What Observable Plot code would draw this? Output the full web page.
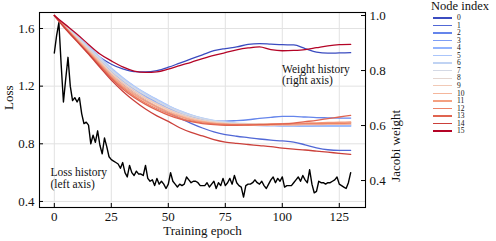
<!DOCTYPE html>
<html><head><meta charset="utf-8">
<script src="https://cdn.jsdelivr.net/npm/d3@7"></script>
<script src="https://cdn.jsdelivr.net/npm/@observablehq/plot@0.6"></script>
<style>
body{margin:0;background:#fff;}
#wrap{position:relative;width:496px;height:241px;font-family:"Liberation Serif",serif;overflow:hidden;}
#wrap svg{position:absolute;left:0;top:0;}
.lg{position:absolute;white-space:nowrap;color:#111;}
</style></head><body><div id="wrap"></div>
<script>
// ---------- data ----------
const lossHistory = [
1.43,1.55,1.64,1.35,1.09,1.25,1.40,1.20,1.10,1.12,
1.09,1.12,1.01,0.94,0.95,0.93,0.80,0.86,0.81,0.89,
0.79,0.73,0.84,0.78,0.71,0.69,0.68,0.67,0.66,0.63,
0.67,0.60,0.57,0.65,0.60,0.58,0.61,0.59,0.59,0.58,
0.65,0.56,0.54,0.55,0.51,0.56,0.52,0.54,0.52,0.49,
0.52,0.60,0.54,0.52,0.50,0.52,0.51,0.52,0.57,0.55,
0.53,0.54,0.54,0.53,0.51,0.51,0.51,0.53,0.50,0.52,
0.54,0.49,0.53,0.51,0.56,0.51,0.53,0.56,0.52,0.58,
0.53,0.51,0.50,0.43,0.51,0.52,0.52,0.53,0.55,0.53,
0.52,0.54,0.51,0.49,0.52,0.55,0.57,0.53,0.56,0.54,
0.57,0.50,0.51,0.51,0.51,0.53,0.55,0.57,0.54,0.58,
0.55,0.53,0.62,0.52,0.46,0.47,0.54,0.53,0.53,0.52,
0.53,0.53,0.54,0.55,0.57,0.52,0.51,0.50,0.49,0.53,
0.60];
const lossEpochs = d3.range(0, lossHistory.length);

const weightEpochs = [0,5,10,15,20,25,30,35,40,45,50,55,60,65,70,75,80,85,90,95,100,105,110,115,120,125,130];
const nodeIndex = [0,1,2,3,4,5,6,7,8,9,10,11,12,13,14,15];
const nodeWeights = [
 [1.0,0.962,0.922,0.882,0.848,0.823,0.806,0.796,0.795,0.800,0.812,0.827,0.842,0.857,0.872,0.880,0.886,0.895,0.898,0.896,0.894,0.893,0.880,0.867,0.863,0.864,0.865],
 [1.0,0.956,0.914,0.872,0.829,0.786,0.750,0.718,0.692,0.668,0.647,0.627,0.608,0.591,0.577,0.567,0.561,0.556,0.551,0.547,0.544,0.540,0.530,0.519,0.512,0.510,0.510],
 [1.0,0.958,0.918,0.878,0.836,0.793,0.758,0.728,0.703,0.681,0.661,0.644,0.631,0.622,0.617,0.616,0.618,0.621,0.626,0.630,0.633,0.633,0.631,0.629,0.628,0.627,0.627],
 [1.0,0.959,0.920,0.881,0.840,0.798,0.764,0.734,0.708,0.686,0.665,0.647,0.633,0.622,0.614,0.609,0.606,0.604,0.602,0.601,0.600,0.600,0.600,0.600,0.600,0.600,0.600],
 [1.0,0.961,0.924,0.886,0.847,0.806,0.772,0.742,0.716,0.693,0.671,0.652,0.637,0.625,0.616,0.609,0.605,0.602,0.600,0.599,0.598,0.598,0.597,0.597,0.597,0.597,0.597],
 [1.0,0.962,0.925,0.888,0.849,0.809,0.775,0.744,0.718,0.695,0.673,0.654,0.639,0.627,0.618,0.611,0.607,0.604,0.602,0.601,0.600,0.600,0.600,0.599,0.599,0.599,0.599],
 [1.0,0.961,0.923,0.885,0.846,0.805,0.771,0.741,0.715,0.692,0.671,0.653,0.638,0.627,0.619,0.613,0.609,0.607,0.605,0.604,0.604,0.604,0.604,0.604,0.604,0.604,0.604],
 [1.0,0.960,0.921,0.882,0.842,0.800,0.766,0.736,0.710,0.688,0.667,0.649,0.635,0.624,0.616,0.611,0.608,0.606,0.605,0.604,0.604,0.605,0.605,0.606,0.606,0.607,0.607],
 [1.0,0.958,0.918,0.877,0.836,0.793,0.758,0.728,0.702,0.680,0.660,0.643,0.630,0.620,0.613,0.609,0.607,0.606,0.606,0.606,0.606,0.607,0.607,0.608,0.608,0.609,0.610],
 [1.0,0.957,0.915,0.874,0.832,0.789,0.754,0.724,0.699,0.677,0.657,0.640,0.627,0.617,0.611,0.607,0.605,0.604,0.604,0.604,0.605,0.606,0.607,0.608,0.609,0.610,0.611],
 [1.0,0.956,0.913,0.871,0.828,0.784,0.748,0.718,0.693,0.671,0.652,0.636,0.623,0.614,0.608,0.604,0.602,0.601,0.601,0.601,0.602,0.602,0.603,0.603,0.604,0.604,0.605],
 [1.0,0.955,0.911,0.868,0.824,0.779,0.743,0.713,0.688,0.667,0.648,0.633,0.621,0.613,0.608,0.605,0.604,0.604,0.605,0.606,0.607,0.608,0.609,0.610,0.611,0.612,0.613],
 [1.0,0.954,0.909,0.865,0.820,0.775,0.738,0.707,0.682,0.661,0.643,0.628,0.617,0.610,0.606,0.604,0.603,0.603,0.603,0.604,0.605,0.606,0.607,0.607,0.608,0.608,0.609],
 [1.0,0.953,0.907,0.862,0.817,0.771,0.733,0.702,0.677,0.656,0.638,0.624,0.614,0.607,0.603,0.601,0.601,0.602,0.603,0.604,0.606,0.609,0.614,0.619,0.625,0.631,0.637],
 [1.0,0.950,0.905,0.860,0.812,0.765,0.725,0.690,0.660,0.635,0.615,0.592,0.575,0.562,0.549,0.540,0.535,0.531,0.527,0.523,0.518,0.514,0.511,0.507,0.503,0.499,0.495],
 [1.0,0.966,0.932,0.895,0.860,0.835,0.813,0.798,0.793,0.795,0.805,0.818,0.830,0.843,0.855,0.865,0.875,0.882,0.886,0.876,0.872,0.873,0.876,0.883,0.890,0.894,0.895]
];
const lossTicks = [0.4, 0.8, 1.2, 1.6];
const weightTicks = [0.4, 0.6, 0.8, 1.0];
const epochTicks = [0, 25, 50, 75, 100, 125];

// ---------- scales / layout ----------
const W = 496, H = 241, mL = 39, mR = 131, mT = 12, mB = 34;
const pw = W - mL - mR, ph = H - mT - mB;
const lossDomain = [0.358, 1.711];
const weightDomain = [0.302, 1.011];
const toLoss = w => lossDomain[0] + (w - weightDomain[0]) * (lossDomain[1] - lossDomain[0]) / (weightDomain[1] - weightDomain[0]);
const fromLoss = v => weightDomain[0] + (v - lossDomain[0]) * (weightDomain[1] - weightDomain[0]) / (lossDomain[1] - lossDomain[0]);

const cw = d3.piecewise(d3.interpolateLab, ["#3b4cc0","#6282ea","#8db0fe","#b8d0f9","#dddddd","#f5c4ac","#f49a7b","#de604d","#b40426"]);
const palette = nodeIndex.map(i => cw(i / 15));

const weightRows = nodeWeights.flatMap((arr, node) => arr.map((w, i) => ({node, epoch: weightEpochs[i], w})));
const lossRows = lossHistory.map((v, i) => ({epoch: lossEpochs[i], loss: v}));

const chart = Plot.plot({
  width: W, height: H, marginLeft: mL, marginRight: mR, marginTop: mT, marginBottom: mB,
  style: {fontFamily: '"Liberation Serif", serif', fontSize: "13px", background: "white", color: "#111"},
  x: {domain: [-6.5, 136.5]},
  y: {domain: lossDomain},
  color: {domain: nodeIndex, range: palette},
  marks: [
    Plot.gridX(epochTicks, {stroke: "#e2e2e2", strokeOpacity: 1, strokeWidth: 1}),
    Plot.gridY(lossTicks, {stroke: "#e2e2e2", strokeOpacity: 1, strokeWidth: 1}),
    Plot.line(lossRows, {x: "epoch", y: "loss", stroke: "black", strokeWidth: 1.4}),
    Plot.line(weightRows, {x: "epoch", y: d => toLoss(d.w), z: "node", stroke: "node", strokeWidth: 1.3, curve: "monotone-x"}),
    Plot.axisX(epochTicks, {tickSize: 0, tickPadding: 4, label: null}),
    Plot.axisY(lossTicks, {anchor: "left", tickSize: 0, tickPadding: 5, label: null, tickFormat: d => d.toFixed(1)}),
    Plot.axisY(weightTicks.map(toLoss), {anchor: "right", tickSize: 0, tickPadding: 4, label: null, tickFormat: v => fromLoss(v).toFixed(1)}),
    Plot.tickY(lossTicks, {y: d => d, insetRight: pw - 4, stroke: "black"}),
    Plot.tickY(weightTicks, {y: toLoss, insetLeft: pw - 4, stroke: "black"}),
    Plot.tickX(epochTicks, {x: d => d, insetTop: ph - 4, stroke: "black"}),
    Plot.frame({stroke: "black", strokeWidth: 1.1}),
    Plot.text(["Loss history\n(left axis)"], {x: -1.7, y: 0.5625, text: d => d, textAnchor: "start", lineAnchor: "middle", fontSize: 11.5, lineHeight: 1.02}),
    Plot.text(["Weight history\n(right axis)"], {x: 99.9, y: 1.279, text: d => d, textAnchor: "start", lineAnchor: "middle", fontSize: 11.5, lineHeight: 1.02}),
    Plot.text(["Loss"], {frameAnchor: "left", dx: -31, rotate: -90, text: d => d, fontSize: 13}),
    Plot.text(["Jacobi weight"], {frameAnchor: "right", dx: 30, rotate: -90, text: d => d, fontSize: 13}),
    Plot.text(["Training epoch"], {frameAnchor: "bottom", dy: 27, text: d => d, fontSize: 13})
  ]
});
const wrap = document.getElementById("wrap");
wrap.appendChild(chart);

// ---------- legend ----------
const lg = d3.select(wrap);
lg.append("div").attr("class", "lg").style("left", "431px").style("top", "0px")
  .style("font-size", "12.5px").style("line-height", "12px").text("Node index");
nodeIndex.forEach((n, i) => {
  const cy = 18 + i * 7.53;
  lg.append("div").attr("class", "lg").style("left", "433px").style("top", (cy - 0.7) + "px")
    .style("width", "19px").style("height", "1.4px").style("background", palette[i]);
  lg.append("div").attr("class", "lg").style("left", "457px").style("top", (cy - 3.8) + "px")
    .style("font-size", "7.5px").style("line-height", "7.5px").text(String(n));
});
</script></body></html>
